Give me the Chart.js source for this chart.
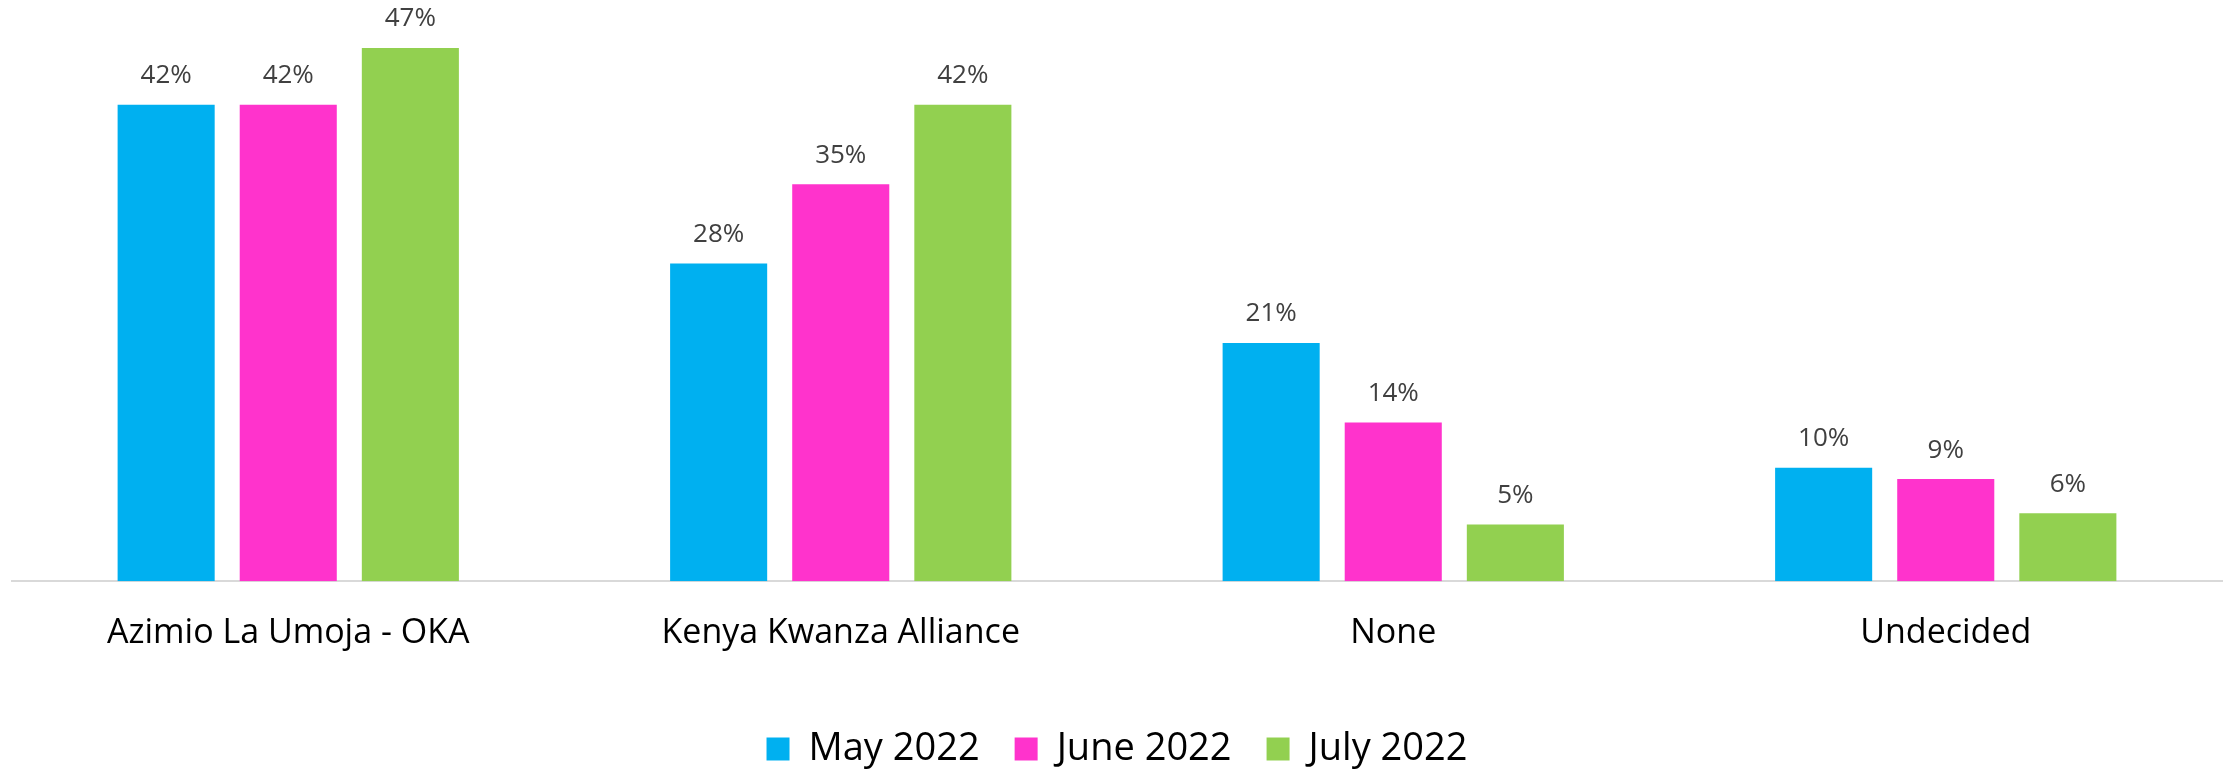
<!DOCTYPE html>
<html>
<head>
<meta charset="utf-8">
<script src="https://cdn.jsdelivr.net/npm/chart.js@4"></script>
<style>
  html, body { margin: 0; padding: 0; background: #fff; }
  #wrap { width: 2234px; height: 769px; position: relative; }
</style>
</head>
<body>
<div id="wrap"><canvas id="chart"></canvas></div>
<script>
const categories = ["Azimio La Umoja - OKA", "Kenya Kwanza Alliance", "None", "Undecided"];
const seriesNames = ["May 2022", "June 2022", "July 2022"];
const may2022 = [42, 28, 21, 10];
const june2022 = [42, 35, 14, 9];
const july2022 = [47, 42, 5, 6];
const seriesColors = ["#00B0F0", "#FF33CC", "#92D050"];

const fontFamily = "'Open Sans', 'Noto Sans', sans-serif";

const valueLabelPlugin = {
  id: "valueLabelPlugin",
  afterDatasetsDraw: (chart) => {
    const { ctx } = chart;
    ctx.save();
    ctx.font = `26px ${fontFamily}`;
    ctx.fillStyle = "#404040";
    ctx.textAlign = "center";
    ctx.textBaseline = "middle";
    chart.data.datasets.forEach((ds, i) => {
      chart.getDatasetMeta(i).data.forEach((bar, j) => {
        ctx.fillText(`${ds.data[j]}%`, bar.x, bar.y - 29);
      });
    });
    ctx.restore();
  },
};

const data = {
  labels: categories,
  datasets: [
    { label: seriesNames[0], data: may2022, backgroundColor: seriesColors[0] },
    { label: seriesNames[1], data: june2022, backgroundColor: seriesColors[1] },
    { label: seriesNames[2], data: july2022, backgroundColor: seriesColors[2] },
  ],
};

new Chart(document.getElementById("chart"), {
  type: "bar",
  data,
  options: {
    responsive: true,
    maintainAspectRatio: false,
    animation: false,
    datasets: {
      bar: { categoryPercentage: 0.663, barPercentage: 0.795, borderWidth: 0 },
    },
    layout: { padding: { top: 14, left: 12, right: 12, bottom: -9 } },
    scales: {
      x: {
        grid: { display: false, drawTicks: false },
        border: { display: true, color: "#d9d9d9", width: 2 },
        ticks: {
          color: "#000",
          font: { family: fontFamily, size: 34 },
          padding: 32,
        },
        // extra room between the category labels and the legend
        afterFit: (scale) => {
          scale.height += 9;
        },
      },
      y: {
        display: false,
        min: 0,
        max: 50,
      },
    },
    plugins: {
      tooltip: { enabled: false },
      legend: {
        position: "bottom",
        labels: {
          color: "#000",
          boxWidth: 23,
          boxHeight: 23,
          padding: 35,
          font: { family: fontFamily, size: 38 },
        },
      },
    },
  },
  plugins: [valueLabelPlugin],
});
</script>
</body>
</html>
